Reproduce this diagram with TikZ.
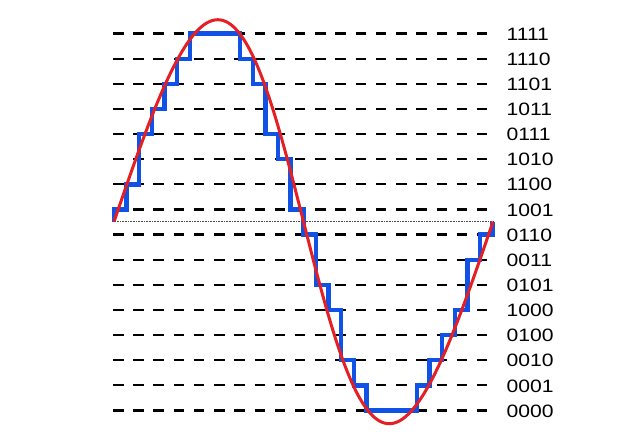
\documentclass[tikz,border=0pt]{standalone}
\usepackage{fontspec}
\newfontfamily\lblfont[FakeStretch=1.18]{Liberation Sans}
\definecolor{sigred}{RGB}{228,32,36}
\definecolor{qblue}{RGB}{16,82,230}
\begin{document}
\begin{tikzpicture}[x=1pt,y=-1pt,
  levelline/.style={line width=2.2pt, dash pattern=on 10.5pt off 9.72pt},
  axisline/.style={line width=0.9pt, dash pattern=on 0.8pt off 0.8pt, gray!60!black},
  wave/.style={sigred, line width=3pt},
  stairs/.style={qblue, line width=4.4pt, line join=miter},
  codelbl/.style={anchor=west, inner sep=0pt, font=\lblfont\fontsize{17.9}{20}\selectfont}]
\fill[white] (0,0) rectangle (640,440);
\useasboundingbox (0,0) rectangle (640,440);
\foreach \L/\lbl in {0/0000,1/0001,2/0010,3/0100,4/1000,5/0101,6/0011,7/0110,8/1001,9/1100,10/1010,11/0111,12/1011,13/1101,14/1110,15/1111}{
  \pgfmathsetmacro\yy{410.5-25.13*\L}
  \draw[levelline] (113,\yy) -- (488,\yy);
  \node[codelbl] (c\L) at (506.5,\yy+0.5) {\lbl};
}
\draw[axisline] (113.5,221.7) -- (493,221.7);
\draw[stairs] (114,221.7) |- (126.6,209.5) |- (139.2,184.3) |- (151.9,134.1) |- (164.5,108.9) |- (177.1,83.8) |- (189.7,58.7) |- (240.2,33.5) |- (252.8,58.7) |- (265.4,83.8) |- (278.0,134.1) |- (290.6,159.2) |- (303.3,209.5) |- (315.9,234.6) |- (328.5,284.9) |- (341.1,310.0) |- (353.7,360.2) |- (366.3,385.4) |- (416.8,410.5) |- (429.4,385.4) |- (442.0,360.2) |- (454.7,335.1) |- (467.3,310.0) |- (479.9,259.7) |- (492.5,234.6) -- (492.5,221.7);
\draw[wave] plot[domain=0:360, samples=145, smooth, variable=\t] ({114+1.0528*\t+9*sin(\t)}, {221.7-202*sin(\t)});
\end{tikzpicture}
\end{document}
